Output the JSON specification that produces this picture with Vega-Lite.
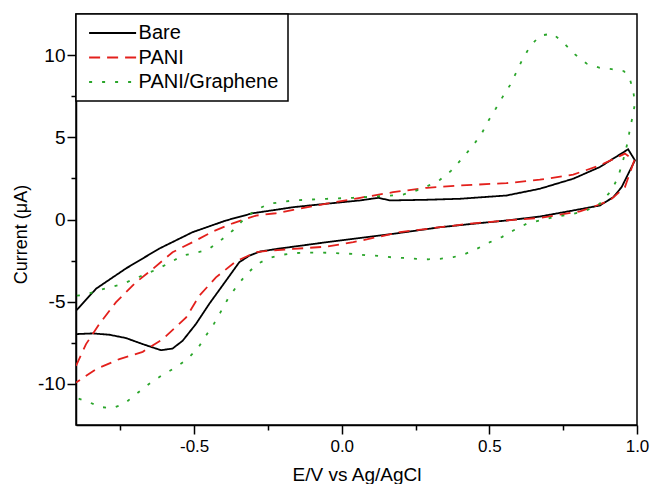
{
  "$schema": "https://vega.github.io/schema/vega-lite/v6.json",
  "width": 561,
  "height": 411,
  "autosize": {"type": "none"},
  "padding": {"left": 76, "top": 14, "right": 16, "bottom": 59},
  "background": "white",
  "config": {
    "view": {"stroke": "black", "strokeWidth": 1.5},
    "axis": {"domainColor": "black", "domainWidth": 1.5, "tickColor": "black", "tickWidth": 1.5, "labelColor": "black", "labelFont": "Liberation Sans", "labelFontSize": 17, "titleFont": "Liberation Sans", "titleFontWeight": "normal", "titleColor": "black", "grid": false, "labelFlush": false, "labelOverlap": false, "labelBound": false},
    "legend": {"labelFont": "Liberation Sans"}
  },
  "data": {"values": [
    {"s":"Bare","i":1,"x":-0.9,"y":-5.55},{"s":"Bare","i":2,"x":-0.832,"y":-4.21},{"s":"Bare","i":3,"x":-0.787,"y":-3.66},{"s":"Bare","i":4,"x":-0.731,"y":-2.98},{"s":"Bare","i":5,"x":-0.618,"y":-1.77},{"s":"Bare","i":6,"x":-0.505,"y":-0.77},{"s":"Bare","i":7,"x":-0.392,"y":-0.06},{"s":"Bare","i":8,"x":-0.302,"y":0.38},{"s":"Bare","i":9,"x":-0.223,"y":0.59},{"s":"Bare","i":10,"x":-0.164,"y":0.75},{"s":"Bare","i":11,"x":-0.051,"y":0.96},{"s":"Bare","i":12,"x":0.062,"y":1.16},{"s":"Bare","i":13,"x":0.124,"y":1.32},{"s":"Bare","i":14,"x":0.163,"y":1.16},{"s":"Bare","i":15,"x":0.288,"y":1.2},{"s":"Bare","i":16,"x":0.4,"y":1.26},{"s":"Bare","i":17,"x":0.558,"y":1.46},{"s":"Bare","i":18,"x":0.671,"y":1.87},{"s":"Bare","i":19,"x":0.784,"y":2.48},{"s":"Bare","i":20,"x":0.874,"y":3.19},{"s":"Bare","i":21,"x":0.97,"y":4.27},{"s":"Bare","i":22,"x":0.993,"y":3.6},{"s":"Bare","i":23,"x":0.948,"y":1.97},{"s":"Bare","i":24,"x":0.92,"y":1.36},{"s":"Bare","i":25,"x":0.874,"y":0.85},{"s":"Bare","i":26,"x":0.784,"y":0.55},{"s":"Bare","i":27,"x":0.671,"y":0.18},{"s":"Bare","i":28,"x":0.558,"y":-0.06},{"s":"Bare","i":29,"x":0.445,"y":-0.26},{"s":"Bare","i":30,"x":0.333,"y":-0.47},{"s":"Bare","i":31,"x":0.175,"y":-0.87},{"s":"Bare","i":32,"x":-0.051,"y":-1.38},{"s":"Bare","i":33,"x":-0.22,"y":-1.79},{"s":"Bare","i":34,"x":-0.277,"y":-1.95},{"s":"Bare","i":35,"x":-0.313,"y":-2.2},{"s":"Bare","i":36,"x":-0.347,"y":-2.6},{"s":"Bare","i":37,"x":-0.392,"y":-3.72},{"s":"Bare","i":38,"x":-0.449,"y":-5.14},{"s":"Bare","i":39,"x":-0.494,"y":-6.36},{"s":"Bare","i":40,"x":-0.539,"y":-7.38},{"s":"Bare","i":41,"x":-0.573,"y":-7.85},{"s":"Bare","i":42,"x":-0.612,"y":-7.95},{"s":"Bare","i":43,"x":-0.674,"y":-7.58},{"s":"Bare","i":44,"x":-0.731,"y":-7.21},{"s":"Bare","i":45,"x":-0.787,"y":-7.01},{"s":"Bare","i":46,"x":-0.843,"y":-6.93},{"s":"Bare","i":47,"x":-0.9,"y":-6.97},
    {"s":"PANI","i":1,"x":-0.9,"y":-8.9},{"s":"PANI","i":2,"x":-0.866,"y":-7.58},{"s":"PANI","i":3,"x":-0.821,"y":-6.36},{"s":"PANI","i":4,"x":-0.765,"y":-5.04},{"s":"PANI","i":5,"x":-0.697,"y":-3.82},{"s":"PANI","i":6,"x":-0.64,"y":-3.01},{"s":"PANI","i":7,"x":-0.573,"y":-1.99},{"s":"PANI","i":8,"x":-0.505,"y":-1.38},{"s":"PANI","i":9,"x":-0.437,"y":-0.73},{"s":"PANI","i":10,"x":-0.369,"y":-0.23},{"s":"PANI","i":11,"x":-0.29,"y":0.24},{"s":"PANI","i":12,"x":-0.223,"y":0.38},{"s":"PANI","i":13,"x":-0.164,"y":0.59},{"s":"PANI","i":14,"x":-0.051,"y":0.96},{"s":"PANI","i":15,"x":0.062,"y":1.32},{"s":"PANI","i":16,"x":0.174,"y":1.66},{"s":"PANI","i":17,"x":0.288,"y":1.93},{"s":"PANI","i":18,"x":0.4,"y":2.07},{"s":"PANI","i":19,"x":0.558,"y":2.21},{"s":"PANI","i":20,"x":0.671,"y":2.42},{"s":"PANI","i":21,"x":0.784,"y":2.73},{"s":"PANI","i":22,"x":0.874,"y":3.29},{"s":"PANI","i":23,"x":0.959,"y":4.01},{"s":"PANI","i":24,"x":0.991,"y":3.6},{"s":"PANI","i":25,"x":0.959,"y":1.97},{"s":"PANI","i":26,"x":0.908,"y":1.16},{"s":"PANI","i":27,"x":0.863,"y":0.85},{"s":"PANI","i":28,"x":0.807,"y":0.49},{"s":"PANI","i":29,"x":0.671,"y":0.1},{"s":"PANI","i":30,"x":0.558,"y":-0.06},{"s":"PANI","i":31,"x":0.445,"y":-0.23},{"s":"PANI","i":32,"x":0.333,"y":-0.47},{"s":"PANI","i":33,"x":0.197,"y":-0.77},{"s":"PANI","i":34,"x":0.118,"y":-1.08},{"s":"PANI","i":35,"x":0.039,"y":-1.38},{"s":"PANI","i":36,"x":-0.051,"y":-1.65},{"s":"PANI","i":37,"x":-0.164,"y":-1.79},{"s":"PANI","i":38,"x":-0.243,"y":-1.89},{"s":"PANI","i":39,"x":-0.29,"y":-1.99},{"s":"PANI","i":40,"x":-0.358,"y":-2.54},{"s":"PANI","i":41,"x":-0.426,"y":-3.52},{"s":"PANI","i":42,"x":-0.482,"y":-4.63},{"s":"PANI","i":43,"x":-0.527,"y":-5.96},{"s":"PANI","i":44,"x":-0.606,"y":-7.27},{"s":"PANI","i":45,"x":-0.674,"y":-8.05},{"s":"PANI","i":46,"x":-0.753,"y":-8.49},{"s":"PANI","i":47,"x":-0.832,"y":-9.1},{"s":"PANI","i":48,"x":-0.9,"y":-9.92},
    {"s":"PANI/Graphene","i":1,"x":-0.897,"y":-4.63},{"s":"PANI/Graphene","i":2,"x":-0.866,"y":-4.57},{"s":"PANI/Graphene","i":3,"x":-0.827,"y":-4.33},{"s":"PANI/Graphene","i":4,"x":-0.787,"y":-4.13},{"s":"PANI/Graphene","i":5,"x":-0.742,"y":-3.92},{"s":"PANI/Graphene","i":6,"x":-0.703,"y":-3.62},{"s":"PANI/Graphene","i":7,"x":-0.623,"y":-3.01},{"s":"PANI/Graphene","i":8,"x":-0.539,"y":-2.2},{"s":"PANI/Graphene","i":9,"x":-0.454,"y":-1.85},{"s":"PANI/Graphene","i":10,"x":-0.415,"y":-1.34},{"s":"PANI/Graphene","i":11,"x":-0.369,"y":-0.67},{"s":"PANI/Graphene","i":12,"x":-0.33,"y":0.04},{"s":"PANI/Graphene","i":13,"x":-0.29,"y":0.59},{"s":"PANI/Graphene","i":14,"x":-0.245,"y":0.96},{"s":"PANI/Graphene","i":15,"x":-0.164,"y":1.16},{"s":"PANI/Graphene","i":16,"x":-0.051,"y":1.26},{"s":"PANI/Graphene","i":17,"x":0.039,"y":1.32},{"s":"PANI/Graphene","i":18,"x":0.163,"y":1.45},{"s":"PANI/Graphene","i":19,"x":0.208,"y":1.52},{"s":"PANI/Graphene","i":20,"x":0.248,"y":1.73},{"s":"PANI/Graphene","i":21,"x":0.288,"y":2.01},{"s":"PANI/Graphene","i":22,"x":0.333,"y":2.42},{"s":"PANI/Graphene","i":23,"x":0.37,"y":2.96},{"s":"PANI/Graphene","i":24,"x":0.412,"y":3.8},{"s":"PANI/Graphene","i":25,"x":0.445,"y":4.51},{"s":"PANI/Graphene","i":26,"x":0.474,"y":5.23},{"s":"PANI/Graphene","i":27,"x":0.496,"y":5.99},{"s":"PANI/Graphene","i":28,"x":0.522,"y":6.75},{"s":"PANI/Graphene","i":29,"x":0.545,"y":7.46},{"s":"PANI/Graphene","i":30,"x":0.57,"y":8.17},{"s":"PANI/Graphene","i":31,"x":0.592,"y":8.98},{"s":"PANI/Graphene","i":32,"x":0.611,"y":9.7},{"s":"PANI/Graphene","i":33,"x":0.637,"y":10.51},{"s":"PANI/Graphene","i":34,"x":0.671,"y":11.18},{"s":"PANI/Graphene","i":35,"x":0.714,"y":11.31},{"s":"PANI/Graphene","i":36,"x":0.75,"y":10.77},{"s":"PANI/Graphene","i":37,"x":0.79,"y":10.04},{"s":"PANI/Graphene","i":38,"x":0.829,"y":9.49},{"s":"PANI/Graphene","i":39,"x":0.874,"y":9.23},{"s":"PANI/Graphene","i":40,"x":0.914,"y":9.15},{"s":"PANI/Graphene","i":41,"x":0.956,"y":9.02},{"s":"PANI/Graphene","i":42,"x":0.976,"y":8.52},{"s":"PANI/Graphene","i":43,"x":0.987,"y":7.87},{"s":"PANI/Graphene","i":44,"x":0.993,"y":7.05},{"s":"PANI/Graphene","i":45,"x":0.985,"y":6.24},{"s":"PANI/Graphene","i":46,"x":0.976,"y":5.53},{"s":"PANI/Graphene","i":47,"x":0.97,"y":4.82},{"s":"PANI/Graphene","i":48,"x":0.953,"y":3.6},{"s":"PANI/Graphene","i":49,"x":0.936,"y":2.58},{"s":"PANI/Graphene","i":50,"x":0.914,"y":1.77},{"s":"PANI/Graphene","i":51,"x":0.874,"y":0.96},{"s":"PANI/Graphene","i":52,"x":0.829,"y":0.55},{"s":"PANI/Graphene","i":53,"x":0.784,"y":0.35},{"s":"PANI/Graphene","i":54,"x":0.716,"y":0.14},{"s":"PANI/Graphene","i":55,"x":0.626,"y":-0.26},{"s":"PANI/Graphene","i":56,"x":0.581,"y":-0.67},{"s":"PANI/Graphene","i":57,"x":0.542,"y":-1.07},{"s":"PANI/Graphene","i":58,"x":0.502,"y":-1.38},{"s":"PANI/Graphene","i":59,"x":0.457,"y":-1.79},{"s":"PANI/Graphene","i":60,"x":0.417,"y":-2.1},{"s":"PANI/Graphene","i":61,"x":0.378,"y":-2.29},{"s":"PANI/Graphene","i":62,"x":0.333,"y":-2.39},{"s":"PANI/Graphene","i":63,"x":0.293,"y":-2.42},{"s":"PANI/Graphene","i":64,"x":0.254,"y":-2.39},{"s":"PANI/Graphene","i":65,"x":0.208,"y":-2.34},{"s":"PANI/Graphene","i":66,"x":0.169,"y":-2.3},{"s":"PANI/Graphene","i":67,"x":0.126,"y":-2.21},{"s":"PANI/Graphene","i":68,"x":0.084,"y":-2.18},{"s":"PANI/Graphene","i":69,"x":0.039,"y":-2.09},{"s":"PANI/Graphene","i":70,"x":0.0,"y":-2.07},{"s":"PANI/Graphene","i":71,"x":-0.038,"y":-2.03},{"s":"PANI/Graphene","i":72,"x":-0.079,"y":-2.01},{"s":"PANI/Graphene","i":73,"x":-0.119,"y":-2.01},{"s":"PANI/Graphene","i":74,"x":-0.164,"y":-2.05},{"s":"PANI/Graphene","i":75,"x":-0.203,"y":-2.15},{"s":"PANI/Graphene","i":76,"x":-0.245,"y":-2.34},{"s":"PANI/Graphene","i":77,"x":-0.285,"y":-2.7},{"s":"PANI/Graphene","i":78,"x":-0.324,"y":-3.35},{"s":"PANI/Graphene","i":79,"x":-0.358,"y":-4.12},{"s":"PANI/Graphene","i":80,"x":-0.386,"y":-4.84},{"s":"PANI/Graphene","i":81,"x":-0.409,"y":-5.59},{"s":"PANI/Graphene","i":82,"x":-0.432,"y":-6.32},{"s":"PANI/Graphene","i":83,"x":-0.46,"y":-7.07},{"s":"PANI/Graphene","i":84,"x":-0.488,"y":-7.85},{"s":"PANI/Graphene","i":85,"x":-0.527,"y":-8.56},{"s":"PANI/Graphene","i":86,"x":-0.57,"y":-9.07},{"s":"PANI/Graphene","i":87,"x":-0.612,"y":-9.51},{"s":"PANI/Graphene","i":88,"x":-0.654,"y":-10.02},{"s":"PANI/Graphene","i":89,"x":-0.697,"y":-10.63},{"s":"PANI/Graphene","i":90,"x":-0.736,"y":-11.2},{"s":"PANI/Graphene","i":91,"x":-0.778,"y":-11.48},{"s":"PANI/Graphene","i":92,"x":-0.819,"y":-11.4},{"s":"PANI/Graphene","i":93,"x":-0.86,"y":-11.08},{"s":"PANI/Graphene","i":94,"x":-0.9,"y":-10.84}
  ]},
  "mark": {"type": "line", "strokeWidth": 1.8, "clip": true},
  "encoding": {
    "x": {"field": "x", "type": "quantitative",
      "scale": {"domain": [-0.9, 1.0], "nice": false, "zero": false},
      "axis": {"values": [-0.75, -0.5, -0.25, 0, 0.25, 0.5, 0.75, 1.0],
        "labelExpr": "abs(datum.value*2 - round(datum.value*2)) < 0.001 ? replace(format(datum.value, '.1f'), '−', '-') : ''",
        "tickSize": {"condition": {"test": "abs(datum.value*2 - round(datum.value*2)) > 0.001", "value": 5}, "value": 9},
        "labelPadding": 4,
        "title": "E/V vs Ag/AgCl", "titleFontSize": 19, "titleBaseline": "alphabetic", "titleY": 55}},
    "y": {"field": "y", "type": "quantitative",
      "scale": {"domain": [-12.5, 12.5], "nice": false, "zero": false},
      "axis": {"values": [-10, -7.5, -5, -2.5, 0, 2.5, 5, 7.5, 10],
        "labelExpr": "datum.value % 5 === 0 ? replace(format(datum.value, 'd'), '−', '-') : ''",
        "tickSize": {"condition": {"test": "datum.value % 5 !== 0", "value": 5}, "value": 9},
        "labelPadding": 2, "labelFontSize": 19,
        "title": "Current (μA)", "titleFontSize": 18, "titleBaseline": "middle", "titleX": -55, "titleY": 220}},
    "order": {"field": "i", "type": "quantitative"},
    "color": {"field": "s", "type": "nominal",
      "scale": {"domain": ["Bare", "PANI", "PANI/Graphene"], "range": ["#000000", "#e3201c", "#2aa52a"]},
      "legend": {"title": null, "orient": "top-left", "offset": 0, "padding": 9, "fillColor": "white", "strokeColor": "black",
        "symbolType": "M-4,0L4,0", "symbolSize": 138, "symbolStrokeWidth": 2, "symbolOffset": 17.6, "labelFontSize": 20, "labelColor": "black",
        "labelOffset": 16, "rowPadding": 4.5,
        "encode": {"legend": {"update": {"strokeWidth": {"value": 1.5}}}}}},
    "strokeDash": {"field": "s", "type": "nominal",
      "scale": {"domain": ["Bare", "PANI", "PANI/Graphene"], "range": [[1, 0], [11, 7], [3, 10]]},
      "legend": {"title": null}}
  }
}
